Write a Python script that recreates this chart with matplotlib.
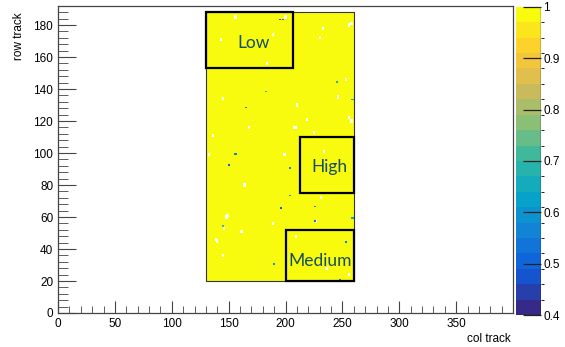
import numpy as np
import matplotlib
matplotlib.use("Agg")
import matplotlib.pyplot as plt
from matplotlib.colors import ListedColormap, BoundaryNorm, LinearSegmentedColormap
from matplotlib.patches import Rectangle
from matplotlib.ticker import MultipleLocator

# map extent (bins of 1 col x 1 row)
col_range = (130, 260)
row_range = (20, 188)
base_value = 0.99

# empty bins (drawn white), each a small 2x2 patch
white_cols = [156, 200, 143, 189, 184, 145, 210, 230, 253, 246, 256, 136, 133, 199, 209, 234,
              258, 168, 164, 148, 189, 161, 139, 145, 236, 256, 209, 231, 227, 146, 233, 256,
              219, 258, 225, 208, 162, 140, 149]
white_rows = [185, 185, 171, 174, 156, 134, 130, 172, 146, 135, 122, 111, 99, 99, 116, 101,
              181, 116, 80, 60, 56, 51, 46, 36, 28, 24, 48, 72, 57, 53, 178, 180,
              121, 120, 113, 116, 51, 45, 61]

# low-efficiency bins
low_cols = [166, 196, 157, 151, 205, 131, 184, 260, 197, 227, 227, 254, 191, 249, 260, 146,
            199, 246, 205, 131]
low_rows = [129, 184, 100, 93, 91, 100, 139, 134, 66, 58, 67, 45, 31, 21, 60, 55,
            184, 145, 74, 101]
low_vals = [0.52, 0.50, 0.55, 0.50, 0.58, 0.52, 0.68, 0.62, 0.50, 0.52, 0.55, 0.53, 0.60, 0.55,
            0.62, 0.70, 0.52, 0.68, 0.60, 0.56]

# regions: name, col min, col max, row min, row max, label col, label row
regions = [
    ("Low", 130, 207, 153, 188, 172, 169),
    ("High", 213, 260, 75, 110, 239, 91),
    ("Medium", 200, 260, 20, 52, 230, 32.5),
]

# ROOT kBird palette, 20 levels between 0.4 and 1
stops = [0.0, 0.125, 0.25, 0.375, 0.5, 0.625, 0.75, 0.875, 1.0]
red = [0.2082, 0.0592, 0.0780, 0.0232, 0.1802, 0.5301, 0.8186, 0.9956, 0.9764]
green = [0.1664, 0.3599, 0.5041, 0.6419, 0.7178, 0.7492, 0.7328, 0.7862, 0.9832]
blue = [0.5293, 0.8684, 0.8385, 0.7914, 0.6425, 0.4662, 0.3499, 0.1968, 0.0539]
bird = LinearSegmentedColormap.from_list("bird", list(zip(stops, zip(red, green, blue))))
levels = np.linspace(0.4, 1.0, 21)
cmap = ListedColormap([bird(i / 19) for i in range(20)])
cmap.set_bad("white")
cmap.set_over(cmap(19))
norm = BoundaryNorm(levels, cmap.N)

xe = np.arange(col_range[0], col_range[1] + 1)
ye = np.arange(row_range[0], row_range[1] + 1)
z = np.full((len(ye) - 1, len(xe) - 1), base_value)
for c, r in zip(white_cols, white_rows):
    i, j = r - row_range[0], c - col_range[0]
    z[max(i - 1, 0):i + 1, max(j - 1, 0):j + 1] = np.nan
for c, r, v in zip(low_cols, low_rows, low_vals):
    i, j = r - row_range[0], c - col_range[0]
    z[max(i - 1, 0):i, max(j - 2, 0):j] = v
z = np.ma.masked_invalid(z)

fig = plt.figure(figsize=(5.65, 3.47), dpi=100)
ax = fig.add_axes([0.1027, 0.098, 0.8053, 0.885])
cax = fig.add_axes([0.913, 0.0922, 0.044, 0.888])

mesh = ax.pcolormesh(xe, ye, z, cmap=cmap, norm=norm, edgecolors="none", rasterized=True)
ax.add_patch(Rectangle((col_range[0], row_range[0]), col_range[1] - col_range[0],
                       row_range[1] - row_range[0], fill=False, ec="#333333", lw=0.8))

for name, x0, x1, y0, y1, lx, ly in regions:
    ax.add_patch(Rectangle((x0, y0), x1 - x0, y1 - y0, fill=False, ec="black", lw=1.6, zorder=3))
    ax.text(lx, ly, name, ha="center", va="center",
            fontsize=12.5, color="#134f5c", family="Lato", zorder=4)

ax.set_xlim(0, 400)
ax.set_ylim(0, 192)
ax.xaxis.set_major_locator(MultipleLocator(50))
ax.xaxis.set_minor_locator(MultipleLocator(10))
ax.yaxis.set_major_locator(MultipleLocator(20))
ax.yaxis.set_minor_locator(MultipleLocator(4))
ax.set_xticks(np.arange(0, 400, 50))
ax.tick_params(which="both", direction="in", top=False, right=False, color="#444444",
               labelsize=8.5, labelfontfamily="Liberation Sans")
ax.tick_params(axis="y", which="major", length=13)
ax.tick_params(axis="y", which="minor", length=7)
ax.tick_params(axis="x", which="major", length=9)
ax.tick_params(axis="x", which="minor", length=5)
for s in ax.spines.values():
    s.set_color("#444444")
    s.set_linewidth(0.9)

ax.set_xlabel("col track", fontsize=8.5, family="Liberation Sans", ha="right")
ax.xaxis.set_label_coords(0.995, -0.065)
ax.set_ylabel("row track", fontsize=8.5, family="Liberation Sans", ha="right")
ax.yaxis.set_label_coords(-0.072, 0.98)

cb = fig.colorbar(mesh, cax=cax, boundaries=levels, ticks=[0.4, 0.5, 0.6, 0.7, 0.8, 0.9, 1.0])
cb.outline.set_visible(False)
cb.ax.set_yticklabels(["0.4", "0.5", "0.6", "0.7", "0.8", "0.9", "1"])
cax.tick_params(direction="in", length=13, width=0.9, color="#222222", labelsize=8.5,
                labelfontfamily="Liberation Sans", pad=2)
cax.axvline(1, color="#222222", lw=1.0)
cax.axhline(0.4, color="#222222", lw=1.0)

fig.savefig("out.png", dpi=100)
